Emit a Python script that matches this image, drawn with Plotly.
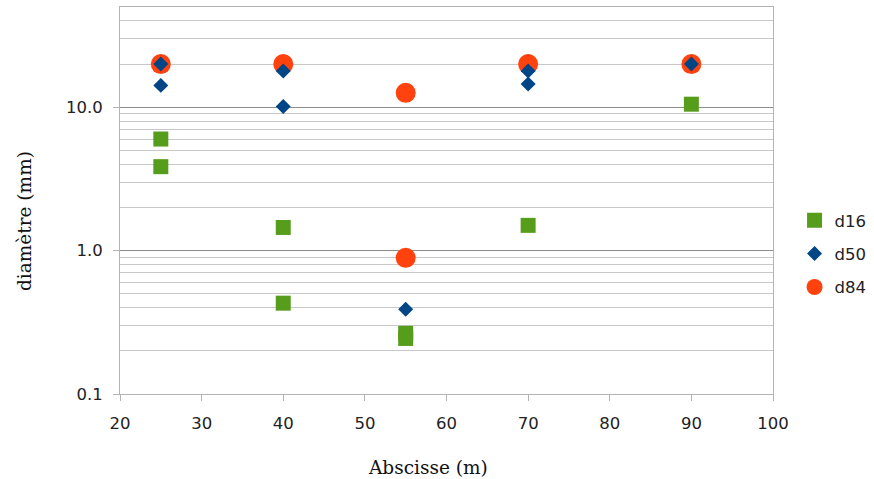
import plotly.graph_objects as go

# Data
x_d16 = [25, 25, 40, 40, 55, 55, 70, 90]
y_d16 = [6.0, 3.85, 1.45, 0.43, 0.265, 0.244, 1.5, 10.5]

x_d50 = [25, 25, 40, 40, 55, 70, 70, 90]
y_d50 = [20.0, 14.2, 17.9, 10.1, 0.39, 17.9, 14.5, 20.0]

x_d84 = [25, 40, 55, 55, 70, 90]
y_d84 = [20.0, 20.0, 12.6, 0.89, 20.0, 20.0]

x_ticks = [20, 30, 40, 50, 60, 70, 80, 90, 100]
y_major = [0.1, 1.0, 10.0]
y_major_labels = ["0.1", "1.0", "10.0"]
y_minor = [m * 10 ** e for e in (-1, 0, 1) for m in range(2, 10) if m * 10 ** e <= 50]

fig = go.Figure()
fig.add_trace(go.Scatter(x=x_d84, y=y_d84, mode="markers", name="d84", legendrank=3,
                         legendgroup="c",
                         marker=dict(symbol="circle", size=20, color="#ff420e")))
fig.add_trace(go.Scatter(x=x_d50, y=y_d50, mode="markers", name="d50", legendrank=2,
                         legendgroup="b",
                         marker=dict(symbol="diamond", size=11.5, color="#004586")))
fig.add_trace(go.Scatter(x=x_d16, y=y_d16, mode="markers", name="d16", legendrank=1,
                         legendgroup="a",
                         marker=dict(symbol="square", size=15, color="#579d1c")))

tickfont = dict(family="DejaVu Sans", size=16.5, color="#222222")
titlefont = dict(family="DejaVu Serif", size=18.5, color="#111111")

fig.update_layout(
    width=874, height=479,
    margin=dict(l=120, r=101, t=7, b=85, autoexpand=False),
    plot_bgcolor="white", paper_bgcolor="white",
    showlegend=True,
    legend=dict(x=1.033, y=0.362, xanchor="left", yanchor="middle",
                font=dict(family="DejaVu Sans", size=16.5, color="#222222"),
                itemsizing="trace", tracegroupgap=9, itemwidth=30,
                bgcolor="rgba(0,0,0,0)"),
    xaxis=dict(range=[20, 100], tickvals=x_ticks, showgrid=False,
               ticks="outside", ticklen=6, tickcolor="#b3b3b3",
               showline=True, linecolor="#b3b3b3", linewidth=1, mirror=True,
               tickfont=tickfont, zeroline=False, ticklabelstandoff=8),
    yaxis=dict(type="log", range=[-1, 1.69897], tickvals=y_major, ticktext=y_major_labels,
               showgrid=True, gridcolor="#8c8c8c", gridwidth=1,
               ticks="outside", ticklen=6, tickcolor="#b3b3b3",
               showline=True, linecolor="#b3b3b3", linewidth=1, mirror=True,
               tickfont=tickfont, zeroline=False, ticklabelstandoff=7,
               minor=dict(tickvals=y_minor, showgrid=True, gridcolor="#c8c8c8", gridwidth=1, ticks="")),
    annotations=[
        dict(text="Abscisse (m)", xref="paper", yref="paper", x=0.472, y=-0.189,
             xanchor="center", yanchor="middle", showarrow=False, font=titlefont),
        dict(text="diamètre (mm)", xref="paper", yref="paper", x=-0.147, y=0.447,
             xanchor="center", yanchor="middle", showarrow=False, font=titlefont,
             textangle=-90),
    ],
)

fig.write_html("out.html", config={"displayModeBar": False},
               post_script="document.body.style.margin='0';")
